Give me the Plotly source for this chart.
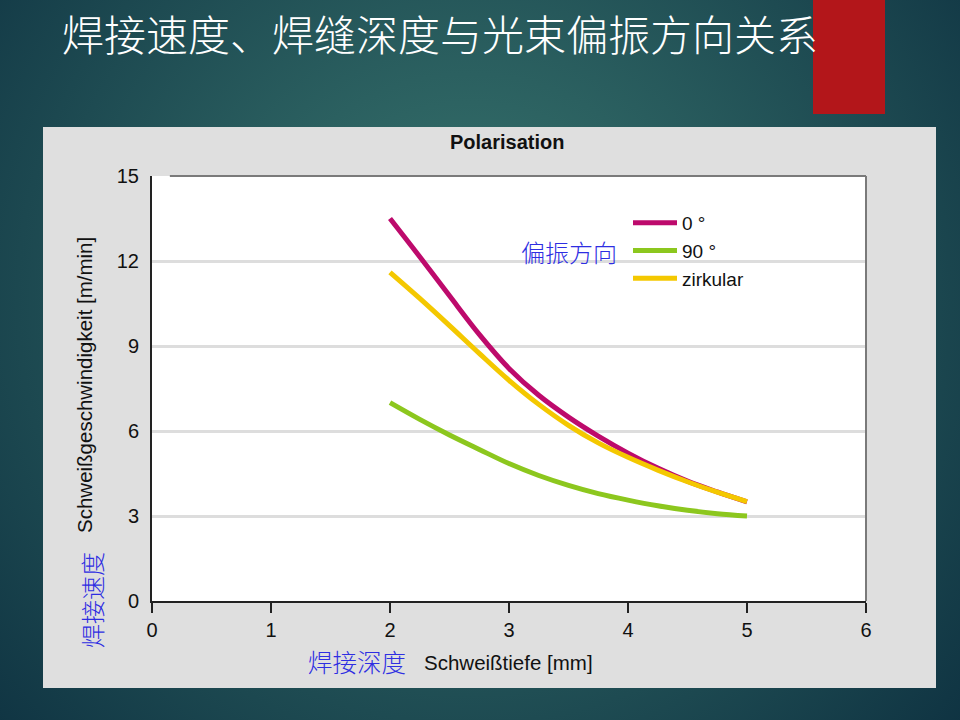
import base64
import plotly.graph_objects as go

# ---------------- data ----------------
depth_mm = [2.0, 2.25, 2.5, 2.75, 3.0, 3.25, 3.5, 3.75, 4.0, 4.25, 4.5, 4.75, 5.0]
speed_0deg = [13.5, 12.15, 10.77, 9.41, 8.21, 7.26, 6.49, 5.82, 5.22, 4.69, 4.23, 3.85, 3.5]
speed_90deg = [7.0, 6.41, 5.86, 5.35, 4.85, 4.43, 4.08, 3.79, 3.56, 3.36, 3.2, 3.08, 3.0]
speed_zirkular = [11.6, 10.68, 9.72, 8.74, 7.79, 6.94, 6.2, 5.58, 5.07, 4.62, 4.21, 3.84, 3.51]

series_names = ["0 °", "90 °", "zirkular"]
series_colors = ["#bd0a6c", "#8cc71e", "#f4c800"]

x_ticks = [0, 1, 2, 3, 4, 5, 6]
y_ticks = [0, 3, 6, 9, 12, 15]

slide_title = "焊接速度、焊缝深度与光束偏振方向关系"
chart_title = "Polarisation"
y_title = "Schweißgeschwindigkeit [m/min]"
x_title = "Schweißtiefe [mm]"
y_title_cn = "焊接速度"
x_title_cn = "焊接深度"
legend_title_cn = "偏振方向"

# ---------------- figure ----------------
W, H = 960, 720
def px(x):
    return x / W
def py(y):
    return 1 - y / H

fig = go.Figure()
for name, ys, col in zip(series_names, [speed_0deg, speed_90deg, speed_zirkular], series_colors):
    fig.add_trace(go.Scatter(
        x=depth_mm, y=ys, mode="lines", name=name,
        line=dict(color=col, width=5, shape="spline", smoothing=1.0),
        hoverinfo="skip",
    ))

# background radial gradient as an SVG image
svg = (
    "<svg xmlns='http://www.w3.org/2000/svg' width='960' height='720' viewBox='0 0 960 720' preserveAspectRatio='none'>"
    "<defs><radialGradient id='g' cx='470' cy='300' r='650' gradientUnits='userSpaceOnUse'>"
    "<stop offset='0' stop-color='#3a7870'/><stop offset='1' stop-color='#0f3342'/>"
    "</radialGradient></defs><rect width='960' height='720' fill='url(#g)'/></svg>"
)
bg_uri = "data:image/svg+xml;base64," + base64.b64encode(svg.encode()).decode()

x0, x1 = 152, 866
y_top, y_bot = 176, 601

shapes = [
    # gray panel
    dict(type="rect", xref="paper", yref="paper", x0=px(43), x1=px(936), y0=py(688), y1=py(127),
         fillcolor="#dfdfdf", line=dict(width=0), layer="below"),
    # white plot area
    dict(type="rect", xref="paper", yref="paper", x0=px(x0), x1=px(x1), y0=py(y_bot), y1=py(y_top),
         fillcolor="#ffffff", line=dict(width=0), layer="below"),
    # red bar
    dict(type="rect", xref="paper", yref="paper", x0=px(813), x1=px(885), y0=py(114), y1=1.01,
         fillcolor="#b3161a", line=dict(width=0), layer="below"),
    # frame top & right
    dict(type="line", xref="x domain", yref="y domain", x0=0.025, x1=1, y0=1, y1=1,
         line=dict(color="#7a7a7a", width=2), layer="above"),
    dict(type="line", xref="x domain", yref="y domain", x0=1, x1=1, y0=0, y1=1,
         line=dict(color="#7a7a7a", width=2), layer="above"),
]

blue = "#2e2ee2"
annotations = [
    dict(text=slide_title, xref="paper", yref="paper", x=px(60), y=1, xanchor="left", yanchor="top",
         showarrow=False, font=dict(family="Noto Sans CJK SC", size=42, color="#ffffff", weight=300)),
    dict(text="<b>" + chart_title + "</b>", xref="paper", yref="paper", x=px(507), y=py(142),
         xanchor="center", yanchor="middle", showarrow=False,
         font=dict(family="Liberation Sans, Arial, sans-serif", size=20, color="#111111")),
    dict(text=y_title, xref="paper", yref="paper", x=px(84), y=py(385), xanchor="center", yanchor="middle",
         textangle=-90, showarrow=False,
         font=dict(family="Liberation Sans, Arial, sans-serif", size=20.5, color="#111111")),
    dict(text=y_title_cn, xref="paper", yref="paper", x=px(91), y=py(600), xanchor="center", yanchor="middle",
         textangle=-90, showarrow=False,
         font=dict(family="Noto Sans CJK SC", size=24, color=blue, weight=300)),
    dict(text=x_title, xref="paper", yref="paper", x=px(422), y=py(662), xanchor="left", yanchor="middle",
         showarrow=False, font=dict(family="Liberation Sans, Arial, sans-serif", size=20.5, color="#111111")),
    dict(text=x_title_cn, xref="paper", yref="paper", x=px(357), y=py(661), xanchor="center", yanchor="middle",
         showarrow=False, font=dict(family="Noto Sans CJK SC", size=24.5, color=blue, weight=300)),
    dict(text=legend_title_cn, xref="paper", yref="paper", x=px(569), y=py(251), xanchor="center", yanchor="middle",
         showarrow=False, font=dict(family="Noto Sans CJK SC", size=24, color=blue, weight=300)),
]

fig.update_layout(
    width=W, height=H,
    margin=dict(l=0, r=0, t=0, b=0, pad=0, autoexpand=False),
    paper_bgcolor="#1b4a52",
    plot_bgcolor="rgba(0,0,0,0)",
    images=[dict(source=bg_uri, xref="paper", yref="paper", x=0, y=1, sizex=1, sizey=1,
                 xanchor="left", yanchor="top", sizing="stretch", layer="below")],
    shapes=shapes,
    annotations=annotations,
    showlegend=True,
    legend=dict(x=px(628), y=py(204), xanchor="left", yanchor="top", bgcolor="rgba(0,0,0,0)",
                font=dict(family="Liberation Sans, Arial, sans-serif", size=19, color="#111111"),
                itemwidth=44, tracegroupgap=0),
    xaxis=dict(domain=[px(x0), px(x1)], range=[0, 6], tickvals=x_ticks, showgrid=False, zeroline=False,
               automargin=False,
               showline=True, linecolor="#222222", linewidth=2, ticks="outside", ticklen=10,
               tickwidth=2, tickcolor="#222222",
               tickfont=dict(family="Liberation Sans, Arial, sans-serif", size=20, color="#111111")),
    yaxis=dict(domain=[py(y_bot), py(y_top)], range=[0, 15], tickvals=y_ticks, showgrid=True,
               gridcolor="#dddddd", gridwidth=3, zeroline=False, automargin=False,
               showline=True, linecolor="#222222", linewidth=2, ticks="", ticklabelstandoff=7,
               tickfont=dict(family="Liberation Sans, Arial, sans-serif", size=20, color="#111111")),
)

fig.write_html(
    "out.html",
    config={"displayModeBar": False},
    post_script="document.body.style.margin='0';document.body.style.overflow='hidden';",
)
